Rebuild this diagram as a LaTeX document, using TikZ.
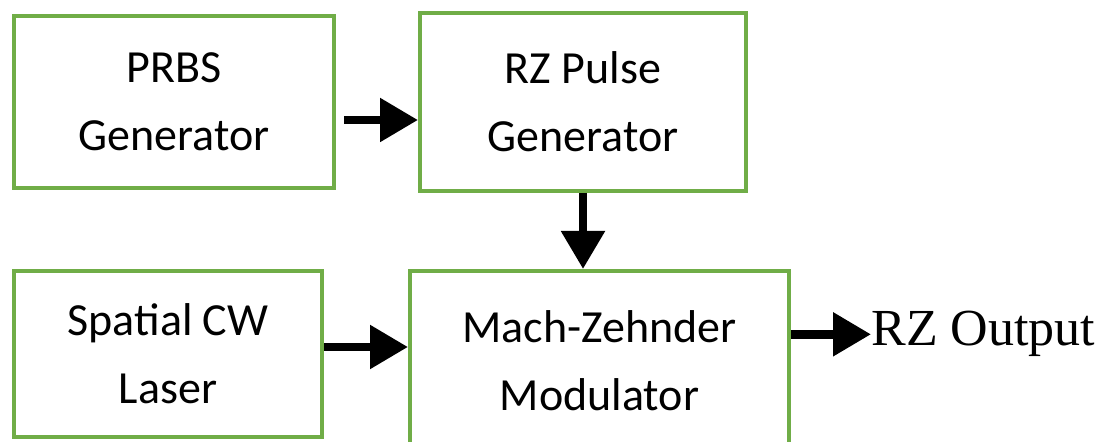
\documentclass[tikz,border=0pt]{standalone}
\usepackage{fontspec}
\setmainfont{Carlito}
\newfontfamily\outfont{Liberation Serif}
\usepackage{xcolor}
\usetikzlibrary{arrows.meta,positioning}
\definecolor{boxgreen}{HTML}{70AD47}

\begin{document}
\begin{tikzpicture}[
  x=0.5pt, y=-0.5pt,
  blk/.style={draw=boxgreen, line width=2pt, rectangle, align=center, inner sep=2pt, font=\fontsize{23}{34}\selectfont},
  arr/.style={-{Triangle[length=19pt,width=21pt]}, line width=4.25pt}
]
\useasboundingbox (0,0) rectangle (1106,442);
\node[blk, minimum width=160pt, minimum height=86pt] (prbs) at (174,102) {PRBS\\Generator};
\node[blk, right=41pt of prbs, minimum width=163pt, minimum height=89pt] (rzp) {RZ Pulse\\Generator};
\node[blk, below=39.5pt of prbs.south west, anchor=north west, minimum width=154pt, minimum height=83pt] (laser) {Spatial CW\\Laser};
\node[blk, right=42pt of laser.north east, anchor=north west, minimum width=189.5pt, minimum height=90pt] (mzm) {Mach-Zehnder\\Modulator};
\node[font=\outfont\fontsize{26}{30}\selectfont, anchor=base west, inner sep=0pt] (out) at ([shift={(40pt,7.5pt)}]mzm.east) {RZ Output};
\draw[arr] ([shift={(4pt,-9pt)}]prbs.east) coordinate (a1) -- (a1 -| rzp.west);
\draw[arr] (rzp.south) -- (rzp.south |- mzm.north);
\draw[arr] ([yshift=3.5pt]laser.east) coordinate (a2) -- (a2 -| mzm.west);
\draw[arr] (mzm.east |- out.west) -- (out.west);
\end{tikzpicture}
\end{document}
